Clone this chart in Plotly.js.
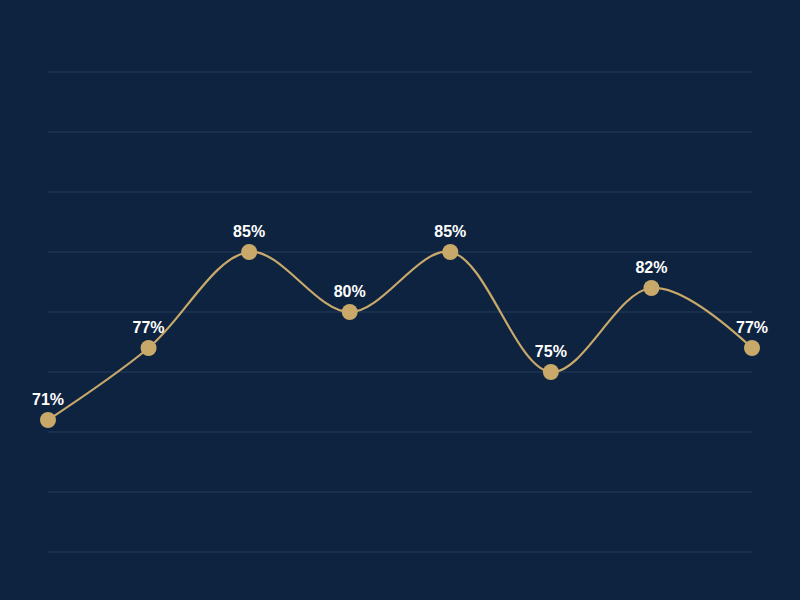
<!DOCTYPE html>
<html>
<head>
<meta charset="utf-8">
<script src="https://cdn.plot.ly/plotly-3.0.1.min.js"></script>
<style>html,body{margin:0;padding:0;background:#0e2340;}</style>
</head>
<body>
<div id="chart" style="width:800px;height:600px;"></div>
<script>
const categories = ["P1", "P2", "P3", "P4", "P5", "P6", "P7", "P8"];
const values = [71, 77, 85, 80, 85, 75, 82, 77];
const labels = values.map(v => v + "%");

const trace = {
  x: categories,
  y: values,
  type: "scatter",
  mode: "lines+markers+text",
  text: labels,
  textposition: "top center",
  textfont: {family: "Liberation Sans, Arial, sans-serif", size: 16, color: "#ffffff", weight: "bold"},
  line: {shape: "spline", smoothing: 1, color: "#c8a96a", width: 2.2},
  marker: {size: 16, color: "#c8a96a"},
  cliponaxis: false,
  hoverinfo: "skip"
};

const layout = {
  width: 800, height: 600,
  paper_bgcolor: "#0e2340",
  plot_bgcolor: "#0e2340",
  margin: {l: 48, r: 48, t: 48, b: 24},
  showlegend: false,
  xaxis: {
    type: "category",
    range: [0, 7],
    showgrid: false, zeroline: false, showline: false,
    showticklabels: false, ticks: ""
  },
  yaxis: {
    range: [58, 102],
    tickmode: "linear", tick0: 60, dtick: 5,
    showgrid: true, gridcolor: "#182f4e", gridwidth: 2,
    zeroline: false, showline: false,
    showticklabels: false, ticks: ""
  }
};

Plotly.newPlot("chart", [trace], layout, {displayModeBar: false, staticPlot: true});
</script>
</body>
</html>
